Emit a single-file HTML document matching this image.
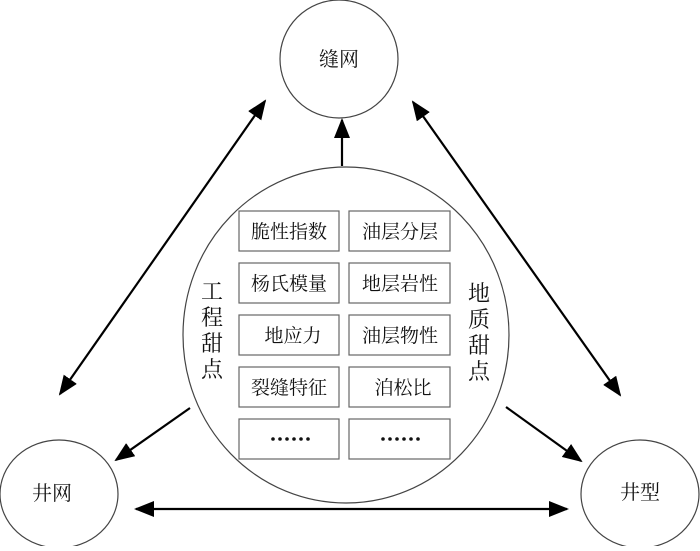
<!DOCTYPE html>
<html><head><meta charset="utf-8"><style>
body{margin:0;background:#fff;}
svg text{font-family:"Liberation Serif","Noto Serif CJK SC","Noto Sans CJK SC",serif;fill:#111;}
</style></head><body>
<svg width="700" height="546" viewBox="0 0 700 546" xmlns="http://www.w3.org/2000/svg">
<defs>
<marker id="a" markerWidth="20" markerHeight="16" refX="18" refY="8" orient="auto-start-reverse" markerUnits="userSpaceOnUse" viewBox="0 0 20 16">
<path d="M0,0 L20,8 L0,16 Z" fill="#000"/></marker>
</defs>
<g fill="none" stroke="#444" stroke-width="1.2">
<circle cx="339" cy="59" r="59"/>
<ellipse cx="59" cy="494" rx="59" ry="54"/>
<ellipse cx="640" cy="494" rx="59" ry="54"/>
<ellipse cx="346" cy="335" rx="163" ry="168"/>
</g>
<g stroke="#000" stroke-width="2.2" fill="none">
<line x1="342" y1="166" x2="342" y2="120" marker-end="url(#a)"/>
<line x1="60" y1="394" x2="265" y2="101" marker-start="url(#a)" marker-end="url(#a)"/>
<line x1="620" y1="395" x2="413" y2="102" marker-start="url(#a)" marker-end="url(#a)"/>
<line x1="136" y1="509" x2="567" y2="509" marker-start="url(#a)" marker-end="url(#a)"/>
<line x1="190" y1="408" x2="116" y2="460" marker-end="url(#a)"/>
<line x1="506" y1="407" x2="581" y2="461" marker-end="url(#a)"/>
</g>
<g fill="#fff" stroke="#666" stroke-width="1.2">
<rect x="239" y="211" width="100" height="40"/><rect x="349" y="211" width="101" height="40"/>
<rect x="239" y="263" width="100" height="40"/><rect x="349" y="263" width="101" height="40"/>
<rect x="239" y="315" width="100" height="40"/><rect x="349" y="315" width="101" height="40"/>
<rect x="239" y="367" width="100" height="40"/><rect x="349" y="367" width="101" height="40"/>
<rect x="239" y="419" width="100" height="40"/><rect x="349" y="419" width="101" height="40"/>
</g>
<g font-size="19" text-anchor="middle">
<text x="289" y="238">脆性指数</text><text x="400" y="238">油层分层</text>
<text x="289" y="290">杨氏模量</text><text x="400" y="290">地层岩性</text>
<text x="293" y="342">地应力</text><text x="400" y="342">油层物性</text>
<text x="289" y="394">裂缝特征</text><text x="403" y="394">泊松比</text>
</g>
<g fill="#111">
<circle cx="273" cy="439" r="1.8"/><circle cx="280" cy="439" r="1.8"/><circle cx="287" cy="439" r="1.8"/><circle cx="294" cy="439" r="1.8"/><circle cx="301" cy="439" r="1.8"/><circle cx="308" cy="439" r="1.8"/>
<circle cx="383" cy="439" r="1.8"/><circle cx="390" cy="439" r="1.8"/><circle cx="397" cy="439" r="1.8"/><circle cx="404" cy="439" r="1.8"/><circle cx="411" cy="439" r="1.8"/><circle cx="418" cy="439" r="1.8"/>
</g>
<g font-size="22" text-anchor="middle">
<text x="212" y="299">工</text><text x="212" y="325">程</text><text x="212" y="351">甜</text><text x="212" y="377">点</text>
<text x="479" y="301">地</text><text x="479" y="327">质</text><text x="479" y="353">甜</text><text x="479" y="379">点</text>
<text x="339" y="66" font-size="20">缝网</text>
<text x="52" y="500" font-size="20">井网</text>
<text x="640" y="499" font-size="20">井型</text>
</g>
</svg>
</body></html>
